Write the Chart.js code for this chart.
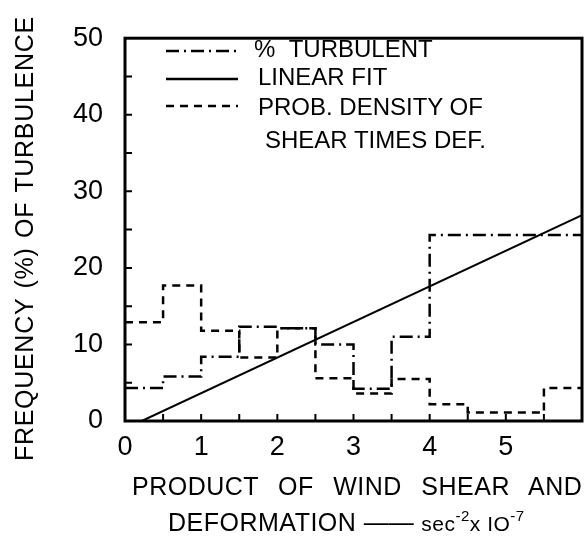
<!DOCTYPE html>
<html>
<head>
<meta charset="utf-8">
<script src="https://cdn.jsdelivr.net/npm/chart.js@4"></script>
<style>
  html, body { margin: 0; padding: 0; background: #fff; }
  #wrap { position: relative; width: 585px; height: 543px; overflow: hidden; }
  #wrap canvas { position: absolute; left: 0; top: 0; }
  .txt { position: absolute; font-family: "Liberation Sans", sans-serif; color: #000; white-space: nowrap; line-height: 1; }
  .leg { font-size: 24px; }
  #ytitle { font-size: 25px; letter-spacing: 0.7px; word-spacing: 2px; transform-origin: 0 0; transform: rotate(-90deg); }
  .xt { font-size: 25px; letter-spacing: 0.5px; }
  sup { font-size: 15px; vertical-align: 10px; }
</style>
</head>
<body>
<div id="wrap">
  <canvas id="chart" width="585" height="543"></canvas>
  <div class="txt leg" style="left:254px; top:37px;">% &nbsp;TURBULENT</div>
  <div class="txt leg" style="left:258px; top:65px;">LINEAR FIT</div>
  <div class="txt leg" style="left:258px; top:95px;">PROB. DENSITY OF</div>
  <div class="txt leg" style="left:265px; top:128px;">SHEAR TIMES DEF.</div>
  <div class="txt" id="ytitle" style="left:12px; top:461px;">FREQUENCY (%) OF TURBULENCE</div>
  <div class="txt xt" style="left:132px; top:474px; word-spacing:12px;">PRODUCT OF WIND SHEAR AND</div>
  <div class="txt xt" style="left:168px; top:508px;">DEFORMATION <span style="letter-spacing:0">——</span> <span style="font-size:21px">sec<sup>-2</sup>x IO<sup>-7</sup></span></div>
</div>
<script>
// bin edges of the histograms (units of 10^-7 sec^-2)
const binEdges     = [0, 0.5, 1, 1.5, 2, 2.5, 3, 3.5, 4, 4.5, 5, 5.5, 6];
// % turbulent per bin
const pctTurbulent = [4.3, 5.8, 8.4, 12.3, 12.1, 10.0, 4.2, 11.0, 24.3, 24.3, 24.3, 24.3];
// probability density of shear times deformation per bin
const probDensity  = [12.9, 17.7, 11.8, 8.3, 12.1, 5.6, 3.6, 5.5, 2.2, 1.1, 1.1, 4.3];
// linear fit end points
const fitX = [0.22, 6];
const fitY = [0, 26.9];

const xTicks = [0, 1, 2, 3, 4, 5];
const yTicks = [0, 10, 20, 30, 40, 50];

const DASHDOT = [13, 5, 2, 5];
const DASHED  = [8, 6];

function stepPoints(vals) {
  const pts = vals.map((v, i) => ({ x: binEdges[i], y: v }));
  pts.push({ x: binEdges[binEdges.length - 1], y: vals[vals.length - 1] });
  return pts;
}

// frame, inward tick marks and legend line samples
const framePlugin = {
  id: 'frame',
  afterDraw(chart) {
    const { ctx, chartArea: a, scales: { x, y } } = chart;
    ctx.save();
    ctx.strokeStyle = '#000';
    ctx.lineWidth = 3;
    ctx.strokeRect(a.left, a.top, a.right - a.left, a.bottom - a.top);

    ctx.lineWidth = 2;
    ctx.beginPath();
    for (let v = 5; v < 50; v += 5) {
      const py = y.getPixelForValue(v);
      ctx.moveTo(a.left, py); ctx.lineTo(a.left + 7, py);
    }
    for (let v = 0.5; v < 6; v += 0.5) {
      const px = x.getPixelForValue(v);
      ctx.moveTo(px, a.bottom); ctx.lineTo(px, a.bottom - 7);
    }
    ctx.stroke();

    const rows = [[DASHDOT, 51], [[], 79], [DASHED, 106]];
    ctx.lineWidth = 2.5;
    rows.forEach(([dash, py]) => {
      ctx.setLineDash(dash);
      ctx.beginPath();
      ctx.moveTo(166, py); ctx.lineTo(238, py);
      ctx.stroke();
    });
    ctx.restore();
  }
};

new Chart(document.getElementById('chart'), {
  type: 'line',
  data: {
    datasets: [{
      label: '% TURBULENT',
      data: stepPoints(pctTurbulent),
      stepped: true,
      borderColor: '#000',
      borderWidth: 2.5,
      borderDash: DASHDOT,
      pointRadius: 0,
      fill: false,
    }, {
      label: 'LINEAR FIT',
      data: fitX.map((v, i) => ({ x: v, y: fitY[i] })),
      borderColor: '#000',
      borderWidth: 2,
      pointRadius: 0,
      fill: false,
    }, {
      label: 'PROB. DENSITY OF SHEAR TIMES DEF.',
      data: stepPoints(probDensity),
      stepped: true,
      borderColor: '#000',
      borderWidth: 2.5,
      borderDash: DASHED,
      pointRadius: 0,
      fill: false,
    }],
  },
  options: {
    responsive: false,
    animation: false,
    layout: { padding: { left: 0, top: 35, right: 3, bottom: 0 } },
    plugins: {
      legend:  { display: false },
      tooltip: { enabled: false },
    },
    scales: {
      x: {
        type: 'linear',
        min: 0, max: 6,
        afterFit: s => { s.height = 122; },
        afterBuildTicks: s => { s.ticks = xTicks.map(v => ({ value: v })); },
        grid:   { display: false, drawTicks: false },
        border: { display: false },
        ticks:  { color: '#000', padding: 10, font: { family: 'Liberation Sans', size: 27 } },
      },
      y: {
        min: 0, max: 50,
        afterFit: s => { s.width = 125; },
        afterBuildTicks: s => { s.ticks = yTicks.map(v => ({ value: v })); },
        grid:   { display: false, drawTicks: false },
        border: { display: false },
        ticks:  { color: '#000', padding: 22, font: { family: 'Liberation Sans', size: 27 } },
      },
    },
  },
  plugins: [framePlugin],
});
</script>
</body>
</html>
